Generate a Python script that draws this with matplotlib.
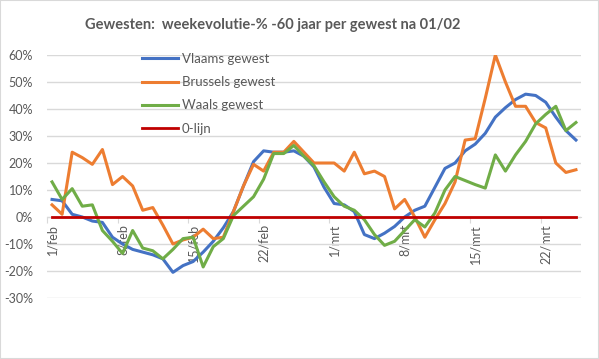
import matplotlib.pyplot as plt
import numpy as np
from matplotlib.patches import Rectangle

# -----------------------
# Data (weekevolutie in %, 1/feb .. 25/mrt)
# -----------------------
vlaams = [6.5, 6, 1, 0, -1.5, -2, -7.5, -10, -12, -13, -14, -15.5, -20.5, -18, -16.5,
          -13, -9, -4, 2, 11.5, 20.5, 24.5, 24, 24, 24.5, 22.5, 18.5, 11, 5, 4.5,
          2, -6.5, -8, -6, -3.5, 0, 2.5, 4, 11, 18, 20, 24.5, 27, 31, 37,
          40.5, 43.5, 45.5, 45, 42.5, 37, 32, 28.5]
brussels = [4.5, 1, 24, 22, 19.5, 25, 12, 15, 11.5, 2.5, 3.5, -3, -10, -8.5, -7.5,
            -4.5, -8, -7.5, 2, 11.5, 19.5, 17, 24, 24, 28, 24, 20, 20, 20, 17,
            24, 16, 17, 15, 3, 6.5, 0, -7.5, -1, 5, 13, 28.5, 29, 44, 60,
            50, 41, 41, 35, 33, 20, 16.5, 17.5]
waals = [13, 6.5, 10.5, 4, 4.5, -5, -9, -13.5, -5, -11.5, -12.5, -15.5, -12, -8, -7.5,
         -18.5, -11, -8, 0.5, 4, 7.5, 14, 23.5, 23.5, 26.5, 22.5, 19, 13, 7.5, 4,
         2.5, -1, -6.5, -10.5, -9, -5, -1, -3.7, 1.5, 10, 15, 13.5, 12, 10.7, 23,
         17, 23, 28, 34.5, 38, 41, 32, 35]
nul_lijn = [0] * len(vlaams)

tick_days = [0, 7, 14, 21, 28, 35, 42, 49]
tick_labels = ['1/feb', '8/feb', '15/feb', '22/feb', '1/mrt', '8/mrt', '15/mrt', '22/mrt']
y_ticks = [-30, -20, -10, 0, 10, 20, 30, 40, 50, 60]

days = np.arange(len(vlaams))
grey = '#595959'
plt.rcParams['font.family'] = ['Lato', 'DejaVu Sans']

# -----------------------
# Plot
# -----------------------
fig = plt.figure(figsize=(5.99, 3.59), dpi=100)
fig.patches.append(Rectangle((0, 0), 1, 1, transform=fig.transFigure,
                             fill=False, edgecolor='#d9d9d9', linewidth=1.5))
ax = fig.add_axes([47 / 599, 61 / 359, 534 / 599, 243 / 359])

ax.plot(days, vlaams, color='#4472C4', linewidth=2.2, label='Vlaams gewest')
ax.plot(days, brussels, color='#ED7D31', linewidth=2.2, label='Brussels gewest')
ax.plot(days, waals, color='#70AD47', linewidth=2.2, label='Waals gewest')
ax.plot(days, nul_lijn, color='#C00000', linewidth=2.0, label='0-lijn', zorder=4)

ax.set_xlim(-0.5, len(vlaams) - 0.5)
ax.set_ylim(-30, 60)
ax.set_yticks(y_ticks)
ax.set_yticklabels([f'{v}%' for v in y_ticks], color=grey, fontsize=9)
ax.tick_params(axis='y', length=0, pad=10)
ax.yaxis.grid(True, color='#d9d9d9', linewidth=1)
ax.set_axisbelow(True)

for s in ['left', 'right', 'top']:
    ax.spines[s].set_visible(False)
ax.spines['bottom'].set_position(('data', 0))
ax.spines['bottom'].set_color('#d9d9d9')
ax.spines['bottom'].set_zorder(1)

ax.set_xticks(np.array(tick_days) - 0.5)
ax.set_xticklabels([])
ax.tick_params(axis='x', which='major', length=4, color='#d9d9d9')
ax.set_xticks(tick_days, minor=True)
ax.set_xticklabels(tick_labels, minor=True, rotation=90, color=grey, fontsize=9)
ax.tick_params(axis='x', which='minor', length=0, pad=5)

ax.legend(loc='upper left', bbox_to_anchor=(142 / 599, 1 - 53 / 359),
          bbox_transform=fig.transFigure, frameon=False, fontsize=9.5,
          handlelength=2.7, handletextpad=0.3, labelspacing=0.85, borderpad=0,
          borderaxespad=0, labelcolor=grey)

fig.text(273 / 599, 1 - 25 / 359, 'Gewesten:  weekevolutie-% -60 jaar per gewest na 01/02',
         ha='center', va='center', fontsize=10.5, fontweight='bold', color=grey)

fig.savefig('out.png', dpi=100)
